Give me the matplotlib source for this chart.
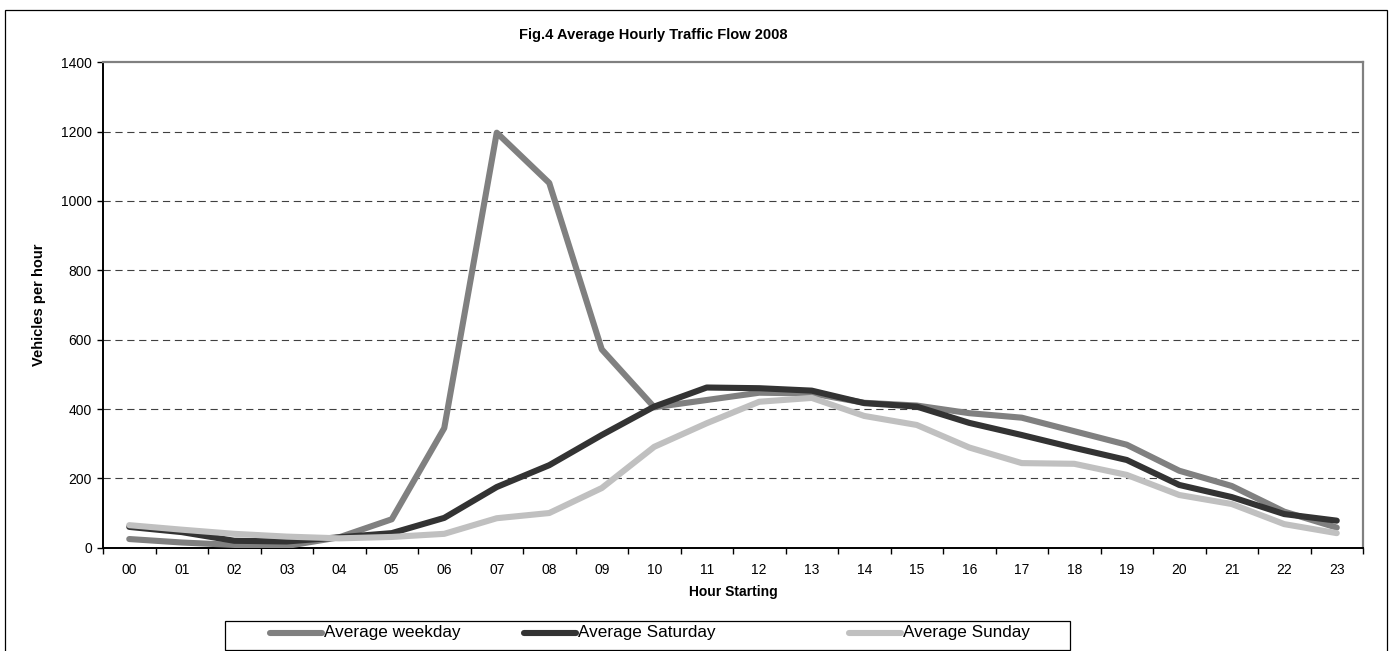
import matplotlib
matplotlib.use("Agg")
import matplotlib.pyplot as plt
from matplotlib.lines import Line2D
from matplotlib.patches import Rectangle

plt.rcParams['font.family'] = ['Liberation Sans', 'DejaVu Sans']

hours = ["00", "01", "02", "03", "04", "05", "06", "07", "08", "09", "10", "11",
         "12", "13", "14", "15", "16", "17", "18", "19", "20", "21", "22", "23"]
weekday = [25, 15, 8, 5, 30, 82, 345, 1197, 1052, 572, 405, 426,
           447, 445, 418, 410, 388, 375, 336, 297, 222, 178, 104, 58]
saturday = [60, 45, 20, 18, 30, 42, 86, 175, 238, 325, 407, 462,
            460, 453, 417, 407, 360, 325, 288, 253, 181, 146, 97, 78]
sunday = [65, 52, 40, 32, 27, 31, 40, 85, 100, 172, 291, 359,
          421, 432, 380, 354, 289, 244, 242, 210, 152, 126, 68, 42]
series_names = ["Average weekday", "Average Saturday", "Average Sunday"]
colors = ["#808080", "#333333", "#c0c0c0"]
yticks = [0, 200, 400, 600, 800, 1000, 1200, 1400]

W, H = 1392, 651
fig = plt.figure(figsize=(W / 100, H / 100), dpi=100)
ax = fig.add_axes([103 / W, 1 - 547.7 / H, (1363 - 103) / W, (547.7 - 62.3) / H])

x = list(range(len(hours)))
for vals, name, c in zip([weekday, saturday, sunday], series_names, colors):
    ax.plot(x, vals, color=c, lw=4.4, solid_capstyle='round',
            solid_joinstyle='round', label=name, zorder=3)

ax.set_xlim(-0.5, len(hours) - 0.5)
ax.set_ylim(0, 1400)
ax.set_yticks(yticks)
ax.set_yticklabels([str(v) for v in yticks], fontsize=10)
ax.set_xticks(x)
ax.set_xticklabels(hours, fontsize=10)
ax.set_xticks([i - 0.5 for i in range(len(hours) + 1)], minor=True)
ax.tick_params(axis='x', which='major', length=0, pad=11)
ax.tick_params(axis='x', which='minor', length=4, width=1, direction='out')
ax.tick_params(axis='y', length=4, width=1, direction='out', pad=4)

for v in yticks[1:-1]:
    ax.axhline(v, color='#404040', lw=0.8, dashes=(6.5, 4.2), zorder=1)

for s in ['left', 'bottom']:
    ax.spines[s].set_color('black')
    ax.spines[s].set_linewidth(1.4)
for s in ['top', 'right']:
    ax.spines[s].set_color('#808080')
    ax.spines[s].set_linewidth(1.6)

fig.text(733 / W, 1 - 592 / H, "Hour Starting", ha='center', va='center',
         fontsize=10, fontweight='bold')
fig.text(39 / W, 1 - 305 / H, "Vehicles per hour", ha='center', va='center',
         rotation=90, fontsize=10.5, fontweight='bold')

fig.text(653 / W, 1 - 35 / H, "Fig.4 Average Hourly Traffic Flow 2008",
         ha='center', va='center', fontsize=10.5, fontweight='bold')

# outer chart frame
fig.add_artist(Rectangle((5 / W, -0.05), (1387 - 5) / W, 1 - 10.5 / H + 0.05,
                         transform=fig.transFigure, fill=False,
                         edgecolor='black', lw=0.9))

# legend box
fig.add_artist(Rectangle((225 / W, 1 - 650 / H), (1070 - 225) / W, (650 - 621) / H,
                         transform=fig.transFigure, fill=False,
                         edgecolor='black', lw=0.9))
legend_x = [270, 524, 849]
ly = 1 - 633 / H
for lx, name, c in zip(legend_x, series_names, colors):
    fig.add_artist(Line2D([lx / W, (lx + 52) / W], [ly, ly], transform=fig.transFigure,
                          color=c, lw=4.4, solid_capstyle='round'))
    fig.text((lx + 54) / W, ly, name, ha='left', va='center', fontsize=12.3)

fig.savefig("out.png", dpi=100)
